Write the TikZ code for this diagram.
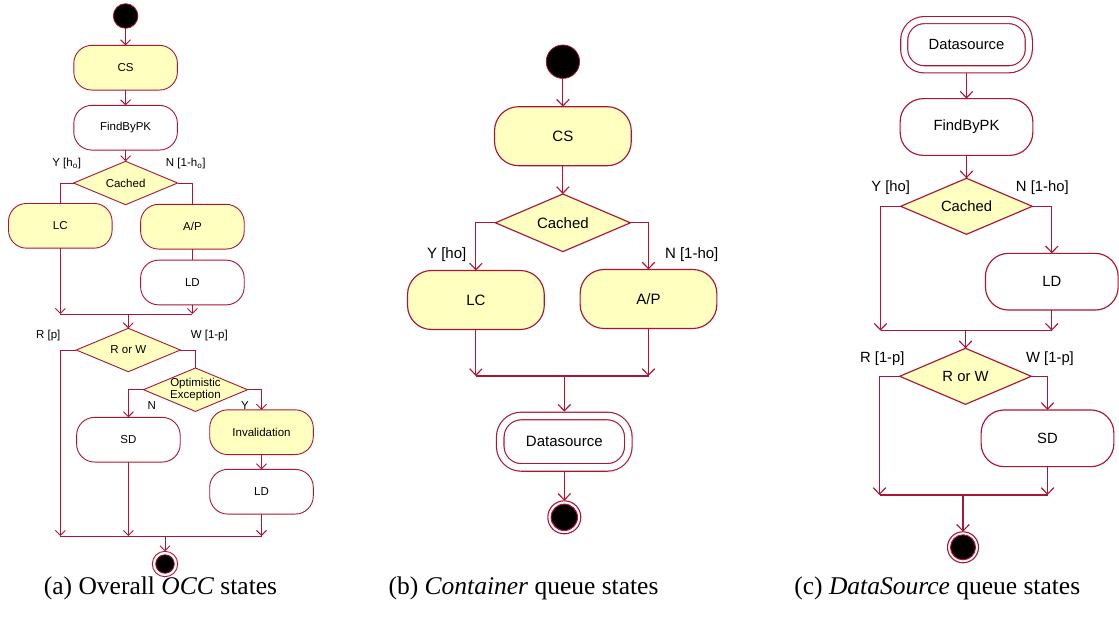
\documentclass[tikz,border=0pt]{standalone}
\usepackage{fontspec}
\setmainfont{Liberation Sans}
\newfontfamily\capfont{Liberation Serif}
\usetikzlibrary{shapes.geometric,arrows.meta}
\definecolor{edge}{RGB}{172,22,54}
\definecolor{statefill}{RGB}{255,255,192}
\begin{document}
\begin{tikzpicture}[x=1pt,y=-1pt,
  every node/.style={inner sep=0pt,outer sep=0pt},
  % panel-specific text and stroke settings
  fa/.style={font=\fontsize{11.5}{14}\selectfont},
  fb/.style={font=\fontsize{15}{18}\selectfont},
  fc/.style={font=\fontsize{14.8}{18}\selectfont},
  la/.style={draw=edge,line width=0.9pt},
  lb/.style={draw=edge,line width=1.15pt},
  arra/.style={-{Straight Barb[length=5pt,width=10pt]}},
  arrb/.style={-{Straight Barb[length=6.5pt,width=12.5pt]}},
  % activity states
  sta/.style={la,fa,fill=white,rectangle,rounded corners=18pt,
              minimum width=103.6pt,minimum height=44.7pt},
  stb/.style={lb,fb,fill=white,rectangle,rounded corners=24pt,
              minimum width=136.7pt,minimum height=59pt},
  stc/.style={lb,fc,fill=white,rectangle,rounded corners=23pt,
              minimum width=132.7pt,minimum height=56.7pt},
  yel/.style={fill=statefill},
  % decisions
  dia/.style={diamond,aspect=2.4,fill=statefill},
  diaa/.style={dia,la,fa,minimum width=104pt,minimum height=43.4pt},
  diab/.style={dia,lb,fb,minimum width=135pt,minimum height=57.6pt},
  diac/.style={dia,lb,fc,minimum width=131.6pt,minimum height=56pt},
  % sub-machine state with a double border
  dsb/.style={lb,fb,fill=white,double=white,double distance=6.4pt,rectangle,
              rounded corners=21pt,minimum width=128.1pt,minimum height=51.4pt,outer sep=4.3pt},
  dsc/.style={lb,fc,fill=white,double=white,double distance=5.9pt,rectangle,
              rounded corners=20pt,minimum width=124.6pt,minimum height=49.2pt,outer sep=4pt},
  % initial and final pseudo-states
  ini/.style={circle,draw=edge,fill=black,line width=0.8pt},
  fin/.style={circle,draw=edge,fill=white,line width=0.9pt},
  fincore/.style={circle,draw=edge,fill=black,line width=0.8pt},
  subcap/.style={anchor=base,font=\capfont\fontsize{25.5}{30}\selectfont}
]
\useasboundingbox (0,0) rectangle (1119,616);
\fill[white] (0,0) rectangle (1119,616);

% ---------------- (a) overall OCC ----------------
\node[ini,minimum size=24.6pt] (a0) at (125.6,16) {};
\node[sta,yel] (acs) at (125.6,67.7) {CS};
\node[sta] (afind) at (125.6,127.7) {FindByPK};
\node[diaa] (aca) at (125.6,183) {Cached};
\node[sta,yel] (alc) at (60.3,225.8) {LC};
\node[sta,yel] (aap) at (192.4,226.7) {A/P};
\node[sta] (ald) at (192.4,282.5) {LD};
\node[diaa] (arw) at (128.3,350) {R or W};
\node[diaa,label={[fa,align=center,text=black]center:Optimistic\\[-1.5pt]Exception}] (aoe) at (195.5,389.7) {};
\node[sta] (asd) at (128.4,439.7) {SD};
\node[sta,yel] (ainv) at (261.5,432.2) {Invalidation};
\node[sta] (ald2) at (261.5,491.7) {LD};
\node[fin,minimum size=25.4pt] (aend) at (165,564) {};
\node[fincore,minimum size=18.6pt] (aendcore) at (aend) {};

\node[fa] (ay) at (66.7,163.3) {Y [h\textsubscript{o}]};
\node[fa] (an) at (185.7,163.3) {N [1-h\textsubscript{o}]};
\node[fa] (ar) at (48.3,336) {R [p]};
\node[fa] (aw) at (209.3,336) {W [1-p]};
\node[fa] (aoen) at (151.7,406) {N};
\node[fa] (aoey) at (245,406) {Y};

\coordinate (ajoin) at (128.3,314);
\coordinate (aleft) at (60.3,536);
\coordinate (ajoin2) at (165,536);

\draw[la,arra] (a0) -- (acs);
\draw[la,arra] (acs) -- (afind);
\draw[la,arra] (afind) -- (aca);
\draw[la] (aca.west) -| (alc.north);
\draw[la] (aca.east) -| (aap.north);
\draw[la] (aap) -- (ald);
\draw[la,arra] (alc.south) -- (alc.south |- ajoin);
\draw[la,arra] (ald.south) -- (ald.south |- ajoin);
\draw[la] (alc.south |- ajoin) -- (ald.south |- ajoin);
\draw[la,arra] (ajoin) -- (arw.north);
\draw[la,arra] (arw.west) -| (aleft);
\draw[la] (arw.east) -| (aoe.north);
\draw[la,arra] (aoe.west) -| (asd.north);
\draw[la,arra] (aoe.east) -| (ainv.north);
\draw[la,arra] (ainv) -- (ald2);
\draw[la,arra] (asd.south) -- (asd.south |- ajoin2);
\draw[la,arra] (ald2.south) -- (ald2.south |- ajoin2);
\draw[la] (aleft) -- (ald2.south |- ajoin2);
\draw[la,arra] (ajoin2) -- (aend);

\node[subcap] (capa) at (160.5,594) {(a) Overall \textit{OCC} states};

% ---------------- (b) container queue ----------------
\node[ini,minimum size=33.4pt] (b0) at (562.9,61.7) {};
\node[stb,yel] (bcs) at (562.9,136.2) {CS};
\node[diab] (bca) at (562.9,222.8) {Cached};
\node[stb,yel] (blc) at (475.9,300) {LC};
\node[stb,yel] (bap) at (648.5,299) {A/P};
\node[dsb] (bds) at (564.3,441.7) {Datasource};
\node[fin,minimum size=33pt,line width=1.1pt] (bend) at (564.3,517.3) {};
\node[fincore,minimum size=26.4pt,line width=1pt] (bendcore) at (bend) {};

\node[fb] (by) at (446.7,255) {Y [ho]};
\node[fb] (bn) at (691.7,255) {N [1-ho]};

\coordinate (bjoin) at (564.3,376);

\draw[lb,arrb] (b0) -- (bcs);
\draw[lb,arrb] (bcs) -- (bca);
\draw[lb,arrb] (bca.west) -| (blc.north);
\draw[lb,arrb] (bca.east) -| (bap.north);
\draw[lb,arrb] (blc.south) -- (blc.south |- bjoin);
\draw[lb,arrb] (bap.south) -- (bap.south |- bjoin);
\draw[lb] (blc.south |- bjoin) -- (bap.south |- bjoin);
\draw[lb,arrb] (bjoin) -- (bds.north);
\draw[lb,arrb] (bds.south) -- (bend);

\node[subcap] (capb) at (523.5,594) {(b) \textit{Container} queue states};

% ---------------- (c) datasource queue ----------------
\node[dsc] (cds) at (966.5,44.7) {Datasource};
\node[stc] (cfind) at (966.5,127) {FindByPK};
\node[diac] (cca) at (966.5,206.3) {Cached};
\node[stc] (cld) at (1051.8,281.7) {LD};
\node[diac] (crw) at (965.5,376.3) {R or W};
\node[stc] (csd) at (1047.5,438.3) {SD};
\node[fin,minimum size=31pt,line width=1.1pt] (cend) at (963,547.3) {};
\node[fincore,minimum size=25pt,line width=1pt] (cendcore) at (cend) {};

\node[fc] (cy) at (890.7,187.7) {Y [ho]};
\node[fc] (cn) at (1042.3,187.7) {N [1-ho]};
\node[fc] (cr) at (882.3,358.3) {R [1-p]};
\node[fc] (cw) at (1050,358.3) {W [1-p]};

\coordinate (cleft) at (880.5,330.7);
\coordinate (cjoin) at (965.5,330.7);
\coordinate (cleft2) at (879.5,495);
\coordinate (cjoin2) at (963,495);

\draw[lb,arrb] (cds.south) -- (cfind);
\draw[lb,arrb] (cfind) -- (cca);
\draw[lb,arrb] (cca.west) -| (cleft);
\draw[lb,arrb] (cca.east) -| (cld.north);
\draw[lb,arrb] (cld.south) -- (cld.south |- cjoin);
\draw[lb] (cleft) -- (cld.south |- cjoin);
\draw[lb,arrb] (cjoin) -- (crw.north);
\draw[lb,arrb] (crw.west) -| (cleft2);
\draw[lb,arrb] (crw.east) -| (csd.north);
\draw[lb,arrb] (csd.south) -- (csd.south |- cjoin2);
\draw[lb] (cleft2) -- (csd.south |- cjoin2);
\draw[lb,arrb] (cjoin2) -- (cend);

\node[subcap] (capc) at (937.3,594) {(c) \textit{DataSource} queue states};
\end{tikzpicture}
\end{document}
